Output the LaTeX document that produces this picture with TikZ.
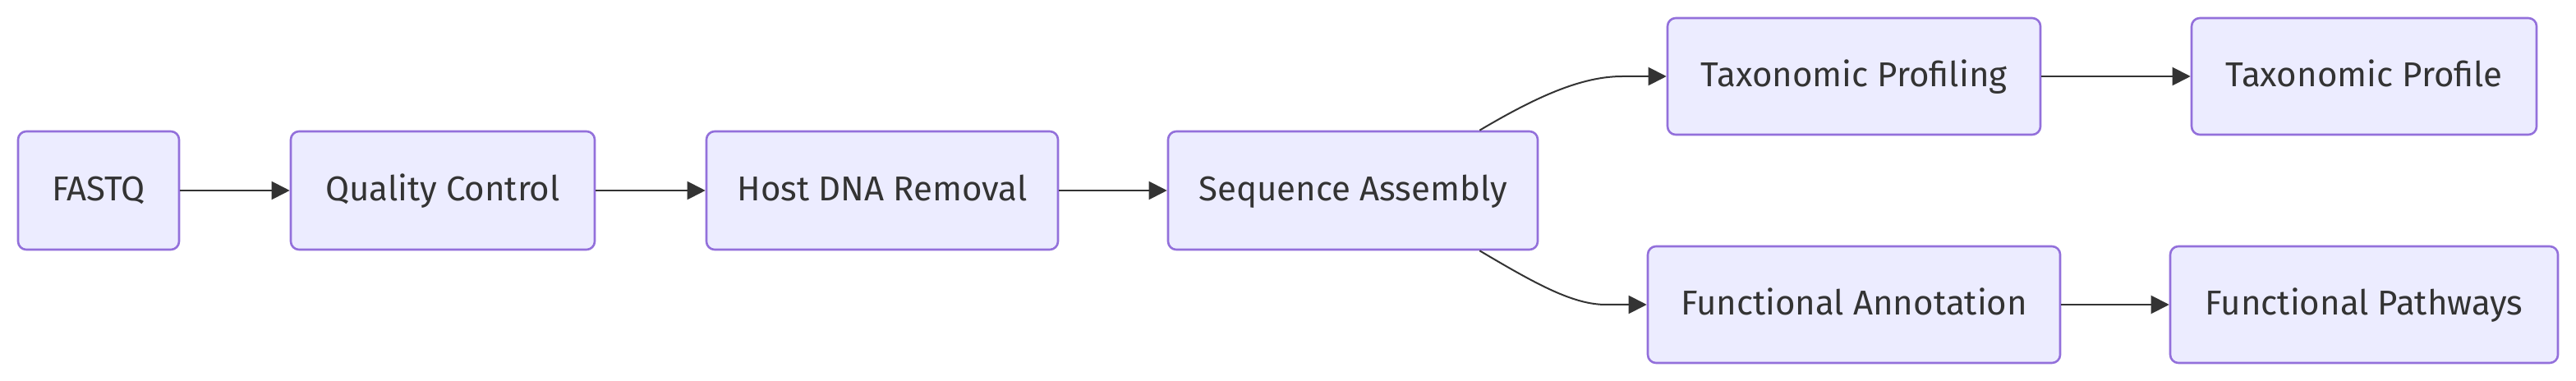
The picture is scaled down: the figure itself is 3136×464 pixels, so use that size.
\documentclass[tikz,border=0pt]{standalone}
\usepackage{fontspec}
\setmainfont{Fira Sans}
\usepackage{xcolor}
\usetikzlibrary{arrows.meta}
\definecolor{boxfill}{HTML}{ECECFF}
\definecolor{boxline}{HTML}{9370DB}
\definecolor{ink}{HTML}{333333}

\begin{document}
\begin{tikzpicture}[x=0.5pt, y=-0.5pt, >={Triangle[length=11pt,width=11pt]},
  box/.style={draw=boxline, fill=boxfill, line width=1.3pt, rounded corners=5pt,
    minimum height=72pt, text=ink, text height=1.22em, text depth=0pt,
    font=\fontsize{21}{25}\selectfont},
  link/.style={->, draw=ink, line width=1pt}]
  \useasboundingbox (0,0) rectangle (3136,464);
  % main row
  \node[box, minimum width=98pt]  (A) at (120,232)  {FASTQ};
  \node[box, minimum width=185pt] (B) at (539,232)  {Quality Control};
  \node[box, minimum width=214pt] (C) at (1074,232) {Host DNA Removal};
  \node[box, minimum width=225pt] (D) at (1647,232) {Sequence Assembly};
  % two branches
  \node[box, minimum width=227pt, minimum height=71pt] (E) at (2257,93)  {Taxonomic Profiling};
  \node[box, minimum width=210pt, minimum height=71pt] (F) at (2878,93)  {Taxonomic Profile};
  \node[box, minimum width=251pt, minimum height=71pt] (G) at (2257,371) {Functional Annotation};
  \node[box, minimum width=236pt, minimum height=71pt] (H) at (2878,371) {Functional Pathways};
  \draw[link] (A) -- (B);
  \draw[link] (B) -- (C);
  \draw[link] (C) -- (D);
  \draw[link] ([xshift=-36pt]D.north east) .. controls (1870,118) and (1925,93) .. (1975,93) -- (E.west);
  \draw[link] ([xshift=-36pt]D.south east) .. controls (1870,346) and (1915,371) .. (1955,371) -- (G.west);
  \draw[link] (E) -- (F);
  \draw[link] (G) -- (H);
\end{tikzpicture}
\end{document}
